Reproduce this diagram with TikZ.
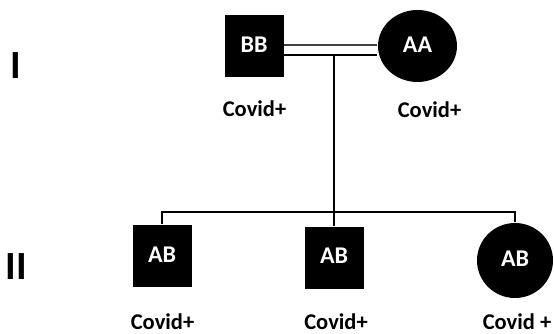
\documentclass[tikz,border=0pt]{standalone}
\usepackage{fontspec}
\setmainfont{Carlito}
\usetikzlibrary{shapes,positioning}
\tikzstyle{male}=[rectangle, fill=black, text=white, font=\bfseries\fontsize{24}{24}\selectfont, minimum width=59pt, minimum height=62pt, inner sep=0pt, text depth=3pt]
\tikzstyle{female}=[ellipse, fill=black, text=white, font=\bfseries\fontsize{24}{24}\selectfont, inner sep=0pt, text depth=3pt]
\tikzstyle{status}=[font=\bfseries\fontsize{22.5}{22.5}\selectfont, inner sep=0pt]
\tikzstyle{gen}=[font=\bfseries\fontsize{40}{40}\selectfont, inner sep=0pt]

\begin{document}
\begin{tikzpicture}[x=1pt, y=-1pt, every path/.style={line width=1.4pt}]
\useasboundingbox (0,0) rectangle (554,334);

% generation numbers
\node[gen] (g1) at (15.5,66) {I};
\node[gen] (g2) at (16.5,267) {II};

% parents
\node[male] (f1) at (254,46) {BB};
\node[female, minimum width=79pt, minimum height=72pt] (m1) at (417.5,46) {AA};
\node[status] (s1) at (254.5,109) {Covid+};
\node[status] (s2) at (429.5,110) {Covid+};

% children
\node[male] (c1) at (162,256) {AB};
\node[male] (c2) at (334,257.5) {AB};
\node[female, minimum width=76pt, minimum height=75pt] (c3) at (515,260.5) {AB};
\node[status] (s3) at (162.5,321.5) {Covid+};
\node[status] (s4) at (336,321.5) {Covid+};
\node[status] (s5) at (517,321.5) {Covid +};

\coordinate (mate) at (334,55);
\coordinate (sib) at (334,212);

% consanguineous mating line
\draw[black!75] ([yshift=1pt]f1.east) -- ([yshift=1pt]m1.west);
\draw ([yshift=-9pt]f1.east) -- ([yshift=-9pt]m1.west);
\draw (mate) -- (c2.north);
\draw (c1.north) |- (sib) -| (c3.north);

\end{tikzpicture}
\end{document}
